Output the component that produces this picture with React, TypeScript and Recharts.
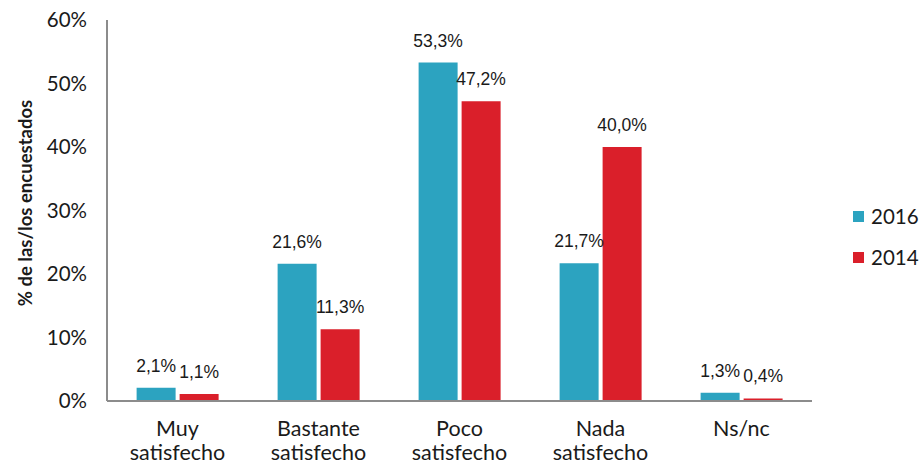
import { BarChart, Bar, XAxis, YAxis, LabelList } from 'recharts';

const categories = ['Muy satisfecho', 'Bastante satisfecho', 'Poco satisfecho', 'Nada satisfecho', 'Ns/nc'];
const values2016 = [2.1, 21.6, 53.3, 21.7, 1.3];
const values2014 = [1.1, 11.3, 47.2, 40.0, 0.4];
const yTicks = [0, 10, 20, 30, 40, 50, 60];

const TEAL = '#2ca3c0';
const RED = '#da1f2a';
const AXIS = '#8c8c8c';
const LATO = 'Lato, sans-serif';
const LABEL_FONT = '"Liberation Sans", Arial, sans-serif';

const data = categories.map((name, i) => ({
  name,
  y2016: values2016[i],
  y2014: values2014[i],
}));

const fmt = (v: number) => `${v.toFixed(1).replace('.', ',')}%`;

const CategoryTick = ({ x, y, payload }: any) => {
  const words = String(payload.value).split(' ');
  return (
    <text x={x} y={y} textAnchor="middle" fontFamily={LATO} fontSize={21.5} fill="#1a1a1a">
      {words.map((w, i) => (
        <tspan key={i} x={x} dy={i === 0 ? 27 : 24}>{w}</tspan>
      ))}
    </text>
  );
};

const Legend2 = () => (
  <g fontFamily={LATO} fontSize={20.5} fill="#1a1a1a">
    <rect x={853} y={211} width={11} height={11} fill={TEAL} />
    <text x={871} y={224}>2016</text>
    <rect x={853} y={252} width={11} height={11} fill={RED} />
    <text x={871} y={265}>2014</text>
  </g>
);

export default function App() {
  return (
    <div style={{ position: 'absolute', left: 0, top: 0, width: 923, height: 465, background: '#fff' }}>
      <BarChart
        width={923}
        height={465}
        data={data}
        margin={{ top: 20, right: 111, bottom: 0, left: 0 }}
        barCategoryGap="21%"
        barGap={4}
      >
        <XAxis
          dataKey="name"
          height={64}
          tickLine={false}
          axisLine={{ stroke: AXIS, strokeWidth: 2 }}
          tick={<CategoryTick />}
          interval={0}
        />
        <YAxis
          width={107}
          domain={[0, 60]}
          ticks={yTicks}
          tickLine={false}
          tickSize={0}
          tickMargin={20}
          axisLine={{ stroke: AXIS, strokeWidth: 2 }}
          tickFormatter={(v: number) => `${v}%`}
          tick={{ fontFamily: LATO, fontSize: 20.5, fill: '#1a1a1a' }}
          label={{
            content: () => (
              <text
                x={32}
                y={203}
                transform="rotate(-90 32 203)"
                textAnchor="middle"
                fontFamily={LATO}
                fontWeight={700}
                fontSize={18.5}
                fill="#1a1a1a"
              >
                % de las/los encuestados
              </text>
            ),
          }}
        />
        <Bar dataKey="y2016" name="2016" fill={TEAL} isAnimationActive={false}>
          <LabelList
            dataKey="y2016"
            position="top"
            offset={16}
            formatter={(v: any) => fmt(Number(v))}
            style={{ fontFamily: LABEL_FONT, fontSize: 17.5, fill: '#1a1a1a' }}
          />
        </Bar>
        <Bar dataKey="y2014" name="2014" fill={RED} isAnimationActive={false}>
          <LabelList
            dataKey="y2014"
            position="top"
            offset={16}
            formatter={(v: any) => fmt(Number(v))}
            style={{ fontFamily: LABEL_FONT, fontSize: 17.5, fill: '#1a1a1a' }}
          />
        </Bar>
      </BarChart>
      <svg width={923} height={465} style={{ position: 'absolute', left: 0, top: 0, pointerEvents: 'none' }}>
        <Legend2 />
      </svg>
    </div>
  );
}
